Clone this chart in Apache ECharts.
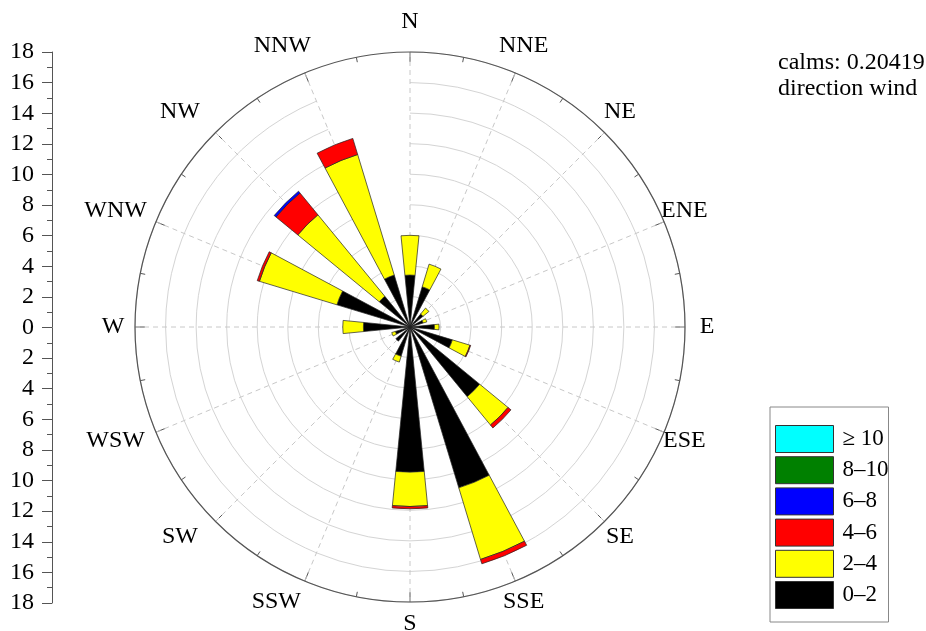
<!DOCTYPE html>
<html>
<head>
<meta charset="utf-8">
<script src="https://cdn.jsdelivr.net/npm/echarts@6/dist/echarts.min.js"></script>
<style>html,body{margin:0;padding:0;background:#fff}#c{width:926px;height:631px}</style>
</head>
<body>
<div id="c"></div>
<script>
// Directions (clockwise from North)
const directions = ['N','NNE','NE','ENE','E','ESE','SE','SSE','S','SSW','SW','WSW','W','WNW','NW','NNW'];
// Frequency (%) per speed class, per direction
const speed0to2  = [3.4, 2.75, 1.1, 0.9, 1.6, 2.9, 5.9, 11.0, 9.5, 2.0, 1.2, 1.0, 3.05, 5.0, 2.6, 3.55];
const speed2to4  = [2.6, 1.55, 0.5, 0.25, 0.3, 1.2, 2.4, 4.9, 2.25, 0.4, 0, 0.25, 1.35, 5.3, 6.9, 8.25];
const speed4to6  = [0, 0, 0, 0, 0, 0.05, 0.25, 0.3, 0.15, 0, 0, 0, 0, 0.15, 1.85, 1.1];
const speed6to8  = [0, 0, 0, 0, 0, 0, 0, 0, 0, 0, 0, 0, 0, 0, 0.15, 0];
const speed8to10 = [0, 0, 0, 0, 0, 0, 0, 0, 0, 0, 0, 0, 0, 0, 0, 0];
const speed10up  = [0, 0, 0, 0, 0, 0, 0, 0, 0, 0, 0, 0, 0, 0, 0, 0];
const classNames = ['0–2', '2–4', '4–6', '6–8', '8–10', '≥ 10'];
const classColors = ['#000000', '#ffff00', '#ff0000', '#0000ff', '#008000', '#00ffff'];
const radiusMax = 18;
const radiusStep = 2;
const calmsText = 'calms: 0.20419';
const subtitleText = 'direction wind';

const FONT = 'Liberation Serif';
const cx = 410, cy = 327, R = 275;

const seriesData = [speed0to2, speed2to4, speed4to6, speed6to8, speed8to10, speed10up];
const series = seriesData.map((arr, k) => ({
  type: 'bar',
  name: classNames[k],
  coordinateSystem: 'polar',
  polarIndex: 0,
  stack: 'wind',
  barWidth: '50%',
  z: 5,
  data: arr.map(v => v === 0 ? '-' : v),
  itemStyle: { color: classColors[k], borderColor: '#222', borderWidth: 0.7 },
  emphasis: { disabled: true },
  animation: false
}));

// direction labels as text around the circle
const labelGraphics = directions.map((d, i) => {
  const th = i * 2 * Math.PI / directions.length;
  const s = Math.sin(th), c = Math.cos(th);
  let x = cx + 297 * s;
  const y = cy - 301 * c - 4 * Math.abs(c);
  if (s < -0.1 && s > -0.99) x -= (c > 0.9 ? 14 : 20);
  return {
    type: 'text', x: x, y: y,
    style: { text: d, font: '24px "' + FONT + '"', fill: '#000', align: 'center', verticalAlign: 'middle' },
    silent: true
  };
});

const chart = echarts.init(document.getElementById('c'), null, { renderer: 'canvas' });
chart.setOption({
  animation: false,
  backgroundColor: '#fff',
  title: {
    text: calmsText + '\n' + subtitleText,
    left: 773, top: 45,
    textStyle: { fontFamily: FONT, fontSize: 24, fontWeight: 'normal', color: '#000', lineHeight: 26 }
  },
  legend: {
    orient: 'vertical',
    left: 770, top: 407,
    padding: [18, 0, 13, 5],
    itemWidth: 58, itemHeight: 27, itemGap: 3.2,
    itemStyle: { borderColor: '#333', borderWidth: 1 },
    icon: 'rect',
    borderColor: '#888', borderWidth: 1,
    data: classNames.slice().reverse(),
    textStyle: { fontFamily: FONT, fontSize: 23, color: '#000', lineHeight: 27, padding: [0, 0, 0, 4] },
    selectedMode: false
  },
  grid: { left: 52, top: 52, width: 1, height: 551 },
  xAxis: { type: 'value', show: false },
  yAxis: {
    type: 'value', min: -radiusMax, max: radiusMax, interval: radiusStep,
    axisLine: { show: true, lineStyle: { color: '#555', width: 1 } },
    axisTick: { show: true, length: 10, lineStyle: { color: '#555' } },
    minorTick: { show: true, splitNumber: 2, length: 5, lineStyle: { color: '#555' } },
    splitLine: { show: false },
    axisLabel: { formatter: v => String(Math.abs(v)), margin: 18, fontFamily: FONT, fontSize: 24, color: '#000' }
  },
  polar: [
    { center: [cx, cy], radius: R },
    { center: [cx, cy], radius: R }
  ],
  angleAxis: [
    {
      polarIndex: 0, type: 'category', data: directions, boundaryGap: false,
      startAngle: 90, clockwise: true,
      axisLine: { show: false },
      axisTick: { show: false },
      axisLabel: { show: false },
      splitLine: { show: false }
    },
    {
      polarIndex: 1, type: 'value', min: 0, max: 360, interval: 22.5,
      startAngle: 90, clockwise: true,
      axisLine: { show: true, lineStyle: { color: '#555', width: 1.2 } },
      axisTick: { show: true, inside: true, length: 10, lineStyle: { color: '#555' } },
      minorTick: { show: true, splitNumber: 2, length: 5, lineStyle: { color: '#555' } },
      axisLabel: { show: false },
      splitLine: { show: true, lineStyle: { color: '#c8c8c8', type: [5, 4], width: 1 } }
    }
  ],
  radiusAxis: [
    {
      polarIndex: 0, type: 'value', min: 0, max: radiusMax, interval: radiusStep,
      axisLine: { show: false }, axisTick: { show: false }, axisLabel: { show: false },
      splitLine: { show: true, lineStyle: { color: '#d4d4d4', width: 1 } }
    },
    {
      polarIndex: 1, type: 'value', min: 0, max: radiusMax,
      axisLine: { show: false }, axisTick: { show: false }, axisLabel: { show: false },
      splitLine: { show: false }
    }
  ],
  graphic: labelGraphics,
  series: series
});
</script>
</body>
</html>
